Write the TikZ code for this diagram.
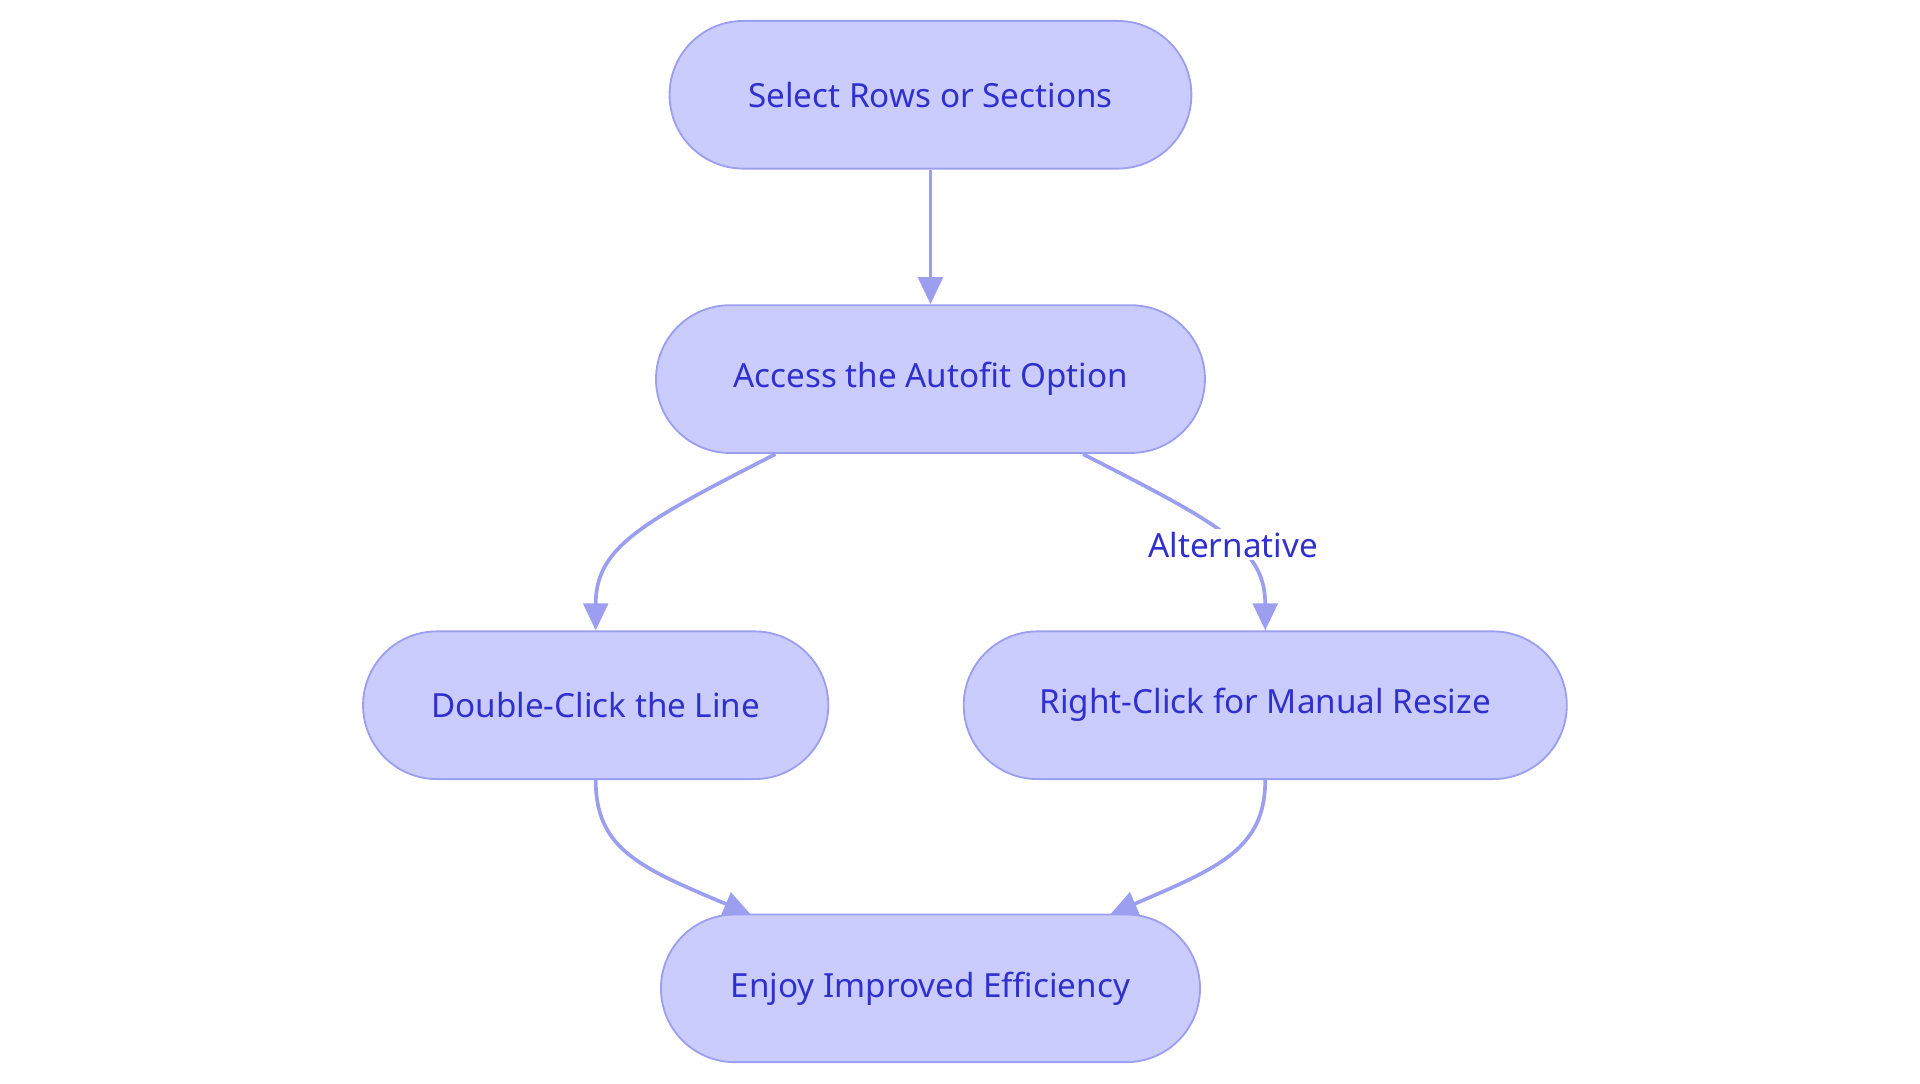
\documentclass[tikz,border=0pt]{standalone}
\usepackage{fontspec}
\setmainfont{Noto Sans}
\usetikzlibrary{arrows.meta}
\definecolor{nfill}{HTML}{CBCCFE}
\definecolor{nline}{HTML}{9C9FF0}
\definecolor{ntext}{HTML}{3030CC}
\begin{document}
\begin{tikzpicture}[x=1pt,y=-1pt,
  box/.style={draw=nline,line width=1.5pt,fill=nfill,rounded corners=60pt,minimum height=120pt,text=ntext,font=\fontsize{27}{32}\selectfont,inner sep=0pt},
  arr/.style={draw=nline,line width=3pt,-{Triangle[length=22pt,width=20pt]}},
  lbl/.style={fill=white,text=ntext,font=\fontsize{27}{32}\selectfont,inner sep=2pt}]
\useasboundingbox (0,0) rectangle (1560,880);
\node[box,minimum width=424pt] (A) at (756,77) {Select Rows or Sections};
\node[box,minimum width=446pt] (B) at (756,308) {Access the Autofit Option};
\node[box,minimum width=378pt] (C) at (484,573) {Double-Click the Line};
\node[box,minimum width=490pt] (D) at (1028,573) {Right-Click for Manual Resize};
\node[box,minimum width=438pt] (E) at (756,803) {Enjoy Improved Efficiency};
\coordinate (b1) at (630,369);
\coordinate (b2) at (880,369);
\coordinate (e1) at (610,743);
\coordinate (e2) at (902,743);
\draw[arr] (A) -- (B);
\draw[arr] (b1) .. controls (520,425) and (484,445) .. (C.north);
\draw[arr] (b2) .. controls (990,425) and (1028,445) .. (D.north) node[lbl,pos=0.55] (L) {Alternative};
\draw[arr] (C.south) .. controls (484,690) and (520,705) .. (e1);
\draw[arr] (D.south) .. controls (1028,690) and (990,705) .. (e2);
\end{tikzpicture}
\end{document}
